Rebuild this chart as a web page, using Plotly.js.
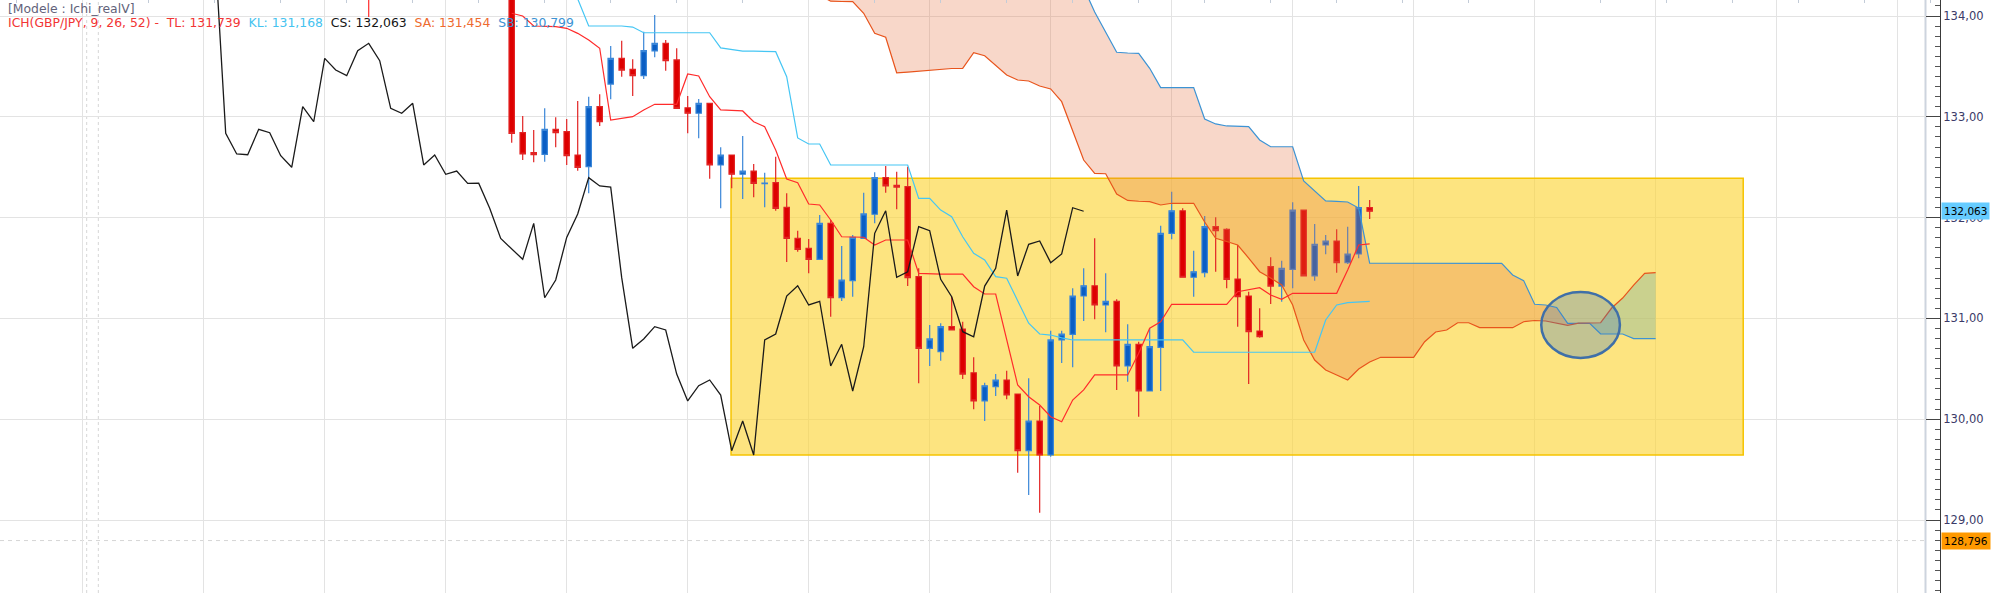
<!DOCTYPE html>
<html>
<head>
<meta charset="utf-8">
<script src="https://cdn.plot.ly/plotly-3.0.1.min.js"></script>
<style>html,body{margin:0;padding:0;background:#fff;}#chart{width:2000px;height:593px;}</style>
</head>
<body>
<div id="chart"></div>
<script>
// ---------- data (candle index units, prices in JPY) ----------
const firstIdx = 0;
const opens = [134.60,132.842,132.644,132.628,132.876,132.852,132.621,132.505,133.100,133.325,
133.580,133.471,133.408,133.653,133.729,133.564,133.090,133.035,133.134,132.522,
132.621,132.430,132.462,132.336,132.346,132.102,131.795,131.695,131.586,131.943,
131.205,131.374,131.794,132.033,132.396,132.320,132.307,131.414,130.703,130.670,
130.918,130.895,130.461,130.181,130.322,130.389,130.250,129.688,129.982,129.645,
130.786,130.842,131.222,131.324,131.133,131.170,130.528,130.743,130.280,130.713,
131.844,132.068,131.408,131.453,131.910,131.884,131.391,131.222,130.875,131.513,
131.321,131.487,132.075,131.421,131.728,131.768,131.553,131.639,132.098];
const highs = [134.80,133.008,132.869,133.084,132.995,132.978,133.157,133.199,133.223,133.702,
133.755,133.570,133.844,134.010,133.762,133.680,133.206,133.177,133.140,132.697,
132.625,132.809,132.532,132.445,132.604,132.241,131.870,131.788,132.026,131.976,
131.718,131.827,132.247,132.449,132.512,132.455,132.505,131.497,130.935,130.951,
131.215,130.967,130.614,130.362,130.448,130.481,130.255,130.406,130.131,130.878,
130.878,131.299,131.497,131.795,131.447,131.189,130.941,130.769,130.902,131.919,
132.257,132.092,131.671,132.016,132.003,131.894,131.728,131.265,131.100,131.606,
131.572,132.152,132.080,131.936,131.827,131.884,131.910,132.313,132.175];
const lows = [132.743,132.571,132.548,132.555,132.697,132.522,132.465,132.241,132.909,133.174,
133.398,133.206,133.375,133.590,133.457,133.080,132.836,132.787,132.386,132.092,
132.291,132.185,132.201,132.102,132.068,131.559,131.662,131.447,131.586,131.017,
131.173,131.214,131.790,131.943,132.247,132.082,131.321,130.356,130.528,130.580,
130.880,130.399,130.098,129.982,130.230,130.197,129.469,129.248,129.072,129.628,
130.558,130.515,130.974,130.991,130.862,130.290,130.372,130.025,130.275,130.280,
131.785,131.405,131.215,131.408,131.463,131.299,130.918,130.349,130.809,131.143,
131.166,131.299,131.418,131.374,131.636,131.453,131.540,131.596,131.986];
const closes = [132.836,132.631,132.624,132.876,132.842,132.614,132.499,133.100,132.951,133.580,
133.464,133.408,133.656,133.729,133.557,133.084,133.035,133.134,132.522,132.621,
132.430,132.462,132.340,132.342,132.092,131.793,131.685,131.586,131.943,131.205,
131.381,131.804,132.036,132.396,132.314,132.303,131.404,130.703,130.796,130.918,
130.885,130.448,130.181,130.332,130.389,130.240,129.688,129.982,129.645,130.786,
130.845,131.222,131.324,131.133,131.170,130.528,130.743,130.280,130.719,131.844,
132.068,131.408,131.463,131.910,131.870,131.388,131.215,130.868,130.818,131.321,
131.497,132.075,131.421,131.735,131.768,131.553,131.639,132.098,132.063];
// close of the (off-chart) candle just before the first one shown
const prevClose = [134.70];
const chikouShift = 26;

const tenkanStart = 0;
const tenkan = [134.027,134.000,133.901,133.896,133.894,133.878,133.828,133.762,133.680,132.968,
132.988,133.001,133.068,133.124,133.124,133.124,133.425,133.405,133.199,133.068,
133.063,133.058,132.951,132.902,132.671,132.383,132.346,132.135,132.125,131.976,
131.810,131.808,131.805,131.728,131.778,131.778,131.778,131.447,131.440,131.440,
131.440,131.440,131.314,131.242,131.242,130.786,130.339,130.223,130.141,130.025,
129.975,130.190,130.290,130.439,130.439,130.439,130.439,130.654,130.902,130.967,
131.140,131.140,131.140,131.140,131.140,131.140,131.265,131.282,131.305,131.232,
131.189,131.249,131.249,131.249,131.249,131.249,131.480,131.728,131.739];
const tenkanEarlyX = [-13, -13];
const tenkanEarlyY = [134.40, 133.99];

const kijunStart = 6;
const kijun = [134.17,133.901,133.901,133.901,133.901,133.890,133.834,133.834,133.834,133.834,
133.834,133.834,133.834,133.683,133.667,133.652,133.652,133.652,133.646,133.398,
132.790,132.730,132.730,132.522,132.522,132.522,132.522,132.522,132.522,132.522,
132.522,132.191,132.191,132.075,132.009,131.810,131.646,131.579,131.414,131.398,
131.183,130.952,130.845,130.835,130.806,130.786,130.786,130.786,130.786,130.786,
130.786,130.786,130.786,130.786,130.786,130.786,130.664,130.664,130.664,130.664,
130.664,130.664,130.664,130.664,130.664,130.664,130.664,130.664,130.984,131.133,
131.156,131.163,131.168];

const cloudStart = 28;
const senkouA = [134.206,134.147,134.144,134.142,134.027,133.828,133.789,133.437,133.444,133.454,
133.464,133.474,133.479,133.481,133.636,133.606,133.514,133.415,133.365,133.355,
133.305,133.276,133.150,132.859,132.571,132.439,132.435,132.234,132.170,132.162,
132.158,132.125,132.142,132.142,132.142,131.956,131.795,131.763,131.728,131.599,
131.463,131.401,131.331,131.133,130.786,130.587,130.488,130.439,130.389,130.498,
130.567,130.614,130.614,130.614,130.614,130.769,130.865,130.885,130.957,130.957,
130.908,130.908,130.908,130.908,130.967,130.979,130.974,130.954,130.930,130.954,
130.957,130.957,131.103,131.202,131.331,131.447,131.454];
const senkouB = [135.00,135.00,135.00,135.00,135.00,135.00,135.00,135.00,135.00,135.00,
135.00,135.00,135.00,135.00,135.00,135.00,135.00,135.00,135.00,135.00,
134.80,134.80,134.80,134.50,134.28,134.040,133.844,133.640,133.633,133.630,
133.481,133.289,133.289,133.289,133.289,132.978,132.929,132.909,132.904,132.902,
132.770,132.703,132.703,132.703,132.363,132.264,132.165,132.160,132.155,132.095,
131.547,131.547,131.547,131.547,131.547,131.547,131.547,131.547,131.547,131.547,
131.547,131.547,131.546,131.431,131.375,131.140,131.133,131.108,130.951,130.951,
130.951,130.845,130.845,130.845,130.799,130.799,130.799];
const cloudTwist = 97;   // SA crosses above SB here

const zoneX = [19.94, 111.96];
const zoneY = [129.645, 132.390];
const circleX = [93.6, 100.75];
const circleY = [130.608, 131.262];
const separatorsX = [-38.64, -37.58];
const lastClose = 132.063;
const markLevel = 128.796;

const headerText = '[Modele : Ichi_realV]';
const legendLabels = ['ICH(GBP/JPY, 9, 26, 52) -\u00a0 TL: 131,739', 'KL: 131,168', 'CS: 132,063', 'SA: 131,454', 'SB: 130,799'];
const legendColors = ['#F23535', '#45C3F0', '#151515', '#EE6A2E', '#3C93D4'];

// ---------- build ----------
const idx = opens.map((_, k) => firstIdx + k);
const chikouY = prevClose.concat(closes);
const chikouX = chikouY.map((_, k) => firstIdx - prevClose.length + k - chikouShift);
const tenkanX = tenkan.map((_, k) => tenkanStart + k);
const kijunX = kijun.map((_, k) => kijunStart + k);
const cloudX = senkouA.map((_, k) => cloudStart + k);
const cut = cloudTwist - cloudStart;

const bearFill = 'rgba(230,110,60,0.28)';
const bullFill = 'rgba(100,170,170,0.33)';
const noLine = {width:0, color:'rgba(0,0,0,0)'};

const traces = [
  {type:'candlestick', x: idx, open: opens, high: highs, low: lows, close: closes,
   increasing:{line:{color:'#3A86D8', width:1.2}, fillcolor:'#0A5EC4'},
   decreasing:{line:{color:'#E22424', width:1.2}, fillcolor:'#DD0000'},
   whiskerwidth: 0, hoverinfo:'skip'},
  {type:'scatter', x: cloudX.slice(0, cut + 1), y: senkouB.slice(0, cut + 1), mode:'lines', line:noLine, hoverinfo:'skip'},
  {type:'scatter', x: cloudX.slice(0, cut + 1), y: senkouA.slice(0, cut + 1), mode:'lines', line:noLine, fill:'tonexty', fillcolor: bearFill, hoverinfo:'skip'},
  {type:'scatter', x: cloudX.slice(cut), y: senkouB.slice(cut), mode:'lines', line:noLine, hoverinfo:'skip'},
  {type:'scatter', x: cloudX.slice(cut), y: senkouA.slice(cut), mode:'lines', line:noLine, fill:'tonexty', fillcolor: bullFill, hoverinfo:'skip'},
  {type:'scatter', x: cloudX, y: senkouB, mode:'lines', line:{color:'#3C93D4', width:1.2}, hoverinfo:'skip'},
  {type:'scatter', x: cloudX, y: senkouA, mode:'lines', line:{color:'#E8541C', width:1.2}, hoverinfo:'skip'},
  {type:'scatter', x: kijunX, y: kijun, mode:'lines', line:{color:'#45C6F4', width:1.2}, hoverinfo:'skip'},
  {type:'scatter', x: tenkanX, y: tenkan, mode:'lines', line:{color:'#FF2B2B', width:1.2}, hoverinfo:'skip'},
  {type:'scatter', x: tenkanEarlyX, y: tenkanEarlyY, mode:'lines', line:{color:'#FF2B2B', width:1.2}, hoverinfo:'skip'},
  {type:'scatter', x: chikouX, y: chikouY, mode:'lines', line:{color:'#1A1A1A', width:1.3}, hoverinfo:'skip'}
];

const plotW = 1940;
const edge = 1926 / plotW;

const shapes = [];
separatorsX.forEach(s => shapes.push({type:'line', xref:'x', yref:'paper', x0:s, x1:s, y0:0, y1:1,
  line:{color:'#D6D6D6', width:1, dash:'3px,3px'}, layer:'below'}));
shapes.push({type:'line', xref:'paper', yref:'y', x0:0, x1:edge, y0:markLevel, y1:markLevel,
  line:{color:'#D6D6D6', width:1, dash:'4px,4px'}, layer:'below'});
shapes.push({type:'rect', xref:'x', yref:'y', x0:zoneX[0], x1:zoneX[1], y0:zoneY[0], y1:zoneY[1],
  fillcolor:'rgba(252,213,60,0.65)', line:{color:'#F6C400', width:1.5}, layer:'between'});
shapes.push({type:'rect', xref:'paper', yref:'paper', x0:edge, x1:1, y0:0, y1:1,
  fillcolor:'#FFFFFF', line:{width:0}, layer:'between'});
shapes.push({type:'line', xref:'paper', yref:'paper', x0:edge - 0.5/plotW, x1:edge - 0.5/plotW, y0:0, y1:1,
  line:{color:'#CDD4DE', width:2}, layer:'between'});
shapes.push({type:'circle', xref:'x', yref:'y', x0:circleX[0], x1:circleX[1], y0:circleY[0], y1:circleY[1],
  fillcolor:'rgba(60,120,190,0.30)', line:{color:'#3F6FA8', width:2.5}, layer:'above'});

const legendHtml = legendLabels.map((t, k) => '<span style="color:' + legendColors[k] + '">' + t + '</span>').join(' \u00a0');

const annotations = [
  {xref:'paper', yref:'paper', x: 6/plotW, y: 1 - 9/593, xanchor:'left', yanchor:'middle', showarrow:false,
   text: headerText, font:{family:'DejaVu Sans', size:12.4, color:'#62627A'}},
  {xref:'paper', yref:'paper', x: 6/plotW, y: 1 - 22.5/593, xanchor:'left', yanchor:'middle', showarrow:false,
   text: legendHtml, font:{family:'DejaVu Sans', size:12.4, color:'#F23535'}},
  {xref:'paper', yref:'y', x: 1, y: lastClose, xanchor:'left', yanchor:'middle', xshift: 1, showarrow:false,
   text: String(lastClose.toFixed(3)).replace('.', ','), bgcolor:'#66CCFF', borderpad:2,
   font:{family:'DejaVu Sans', size:10.5, color:'#000'}},
  {xref:'paper', yref:'y', x: 1, y: markLevel, xanchor:'left', yanchor:'middle', xshift: 1, showarrow:false,
   text: String(markLevel.toFixed(3)).replace('.', ','), bgcolor:'#FF9900', borderpad:2,
   font:{family:'DejaVu Sans', size:10.5, color:'#000'}}
];

const layout = {
  width: 2000, height: 593,
  margin: {l:0, r:60, t:0, b:0, pad:0},
  paper_bgcolor:'#FFFFFF', plot_bgcolor:'#FFFFFF',
  showlegend:false,
  separators: ',.',
  font:{family:'DejaVu Sans'},
  xaxis: {range:[-46.52, 129.85], side:'top', rangeslider:{visible:false},
    showline:true, linecolor:'#CBD3DE', linewidth:2,
    showgrid:true, gridcolor:'#E3E3E3', gridwidth:1, tick0:5, dtick:11,
    ticks:'', showticklabels:false, zeroline:false, fixedrange:true,
    minor:{tick0:3, dtick:6, ticks:'inside', ticklen:3, tickcolor:'#C3CCD8', showgrid:false}},
  yaxis: {range:[128.2758, 134.1587], side:'right', showline:true, linecolor:'#3A3A3A', linewidth:1,
    ticks:'inside', ticklen:14, tickcolor:'#444', tickwidth:1, dtick:1, tick0:0, tickformat:'.2f',
    tickfont:{family:'DejaVu Sans', size:11.5, color:'#3B3B68'},
    showgrid:true, gridcolor:'#E3E3E3', gridwidth:1, zeroline:false, fixedrange:true,
    minor:{dtick:0.1, ticks:'inside', ticklen:5, tickcolor:'#555', showgrid:false}},
  shapes: shapes,
  annotations: annotations
};

Plotly.newPlot('chart', traces, layout, {displayModeBar:false, staticPlot:true});
</script>
</body>
</html>
